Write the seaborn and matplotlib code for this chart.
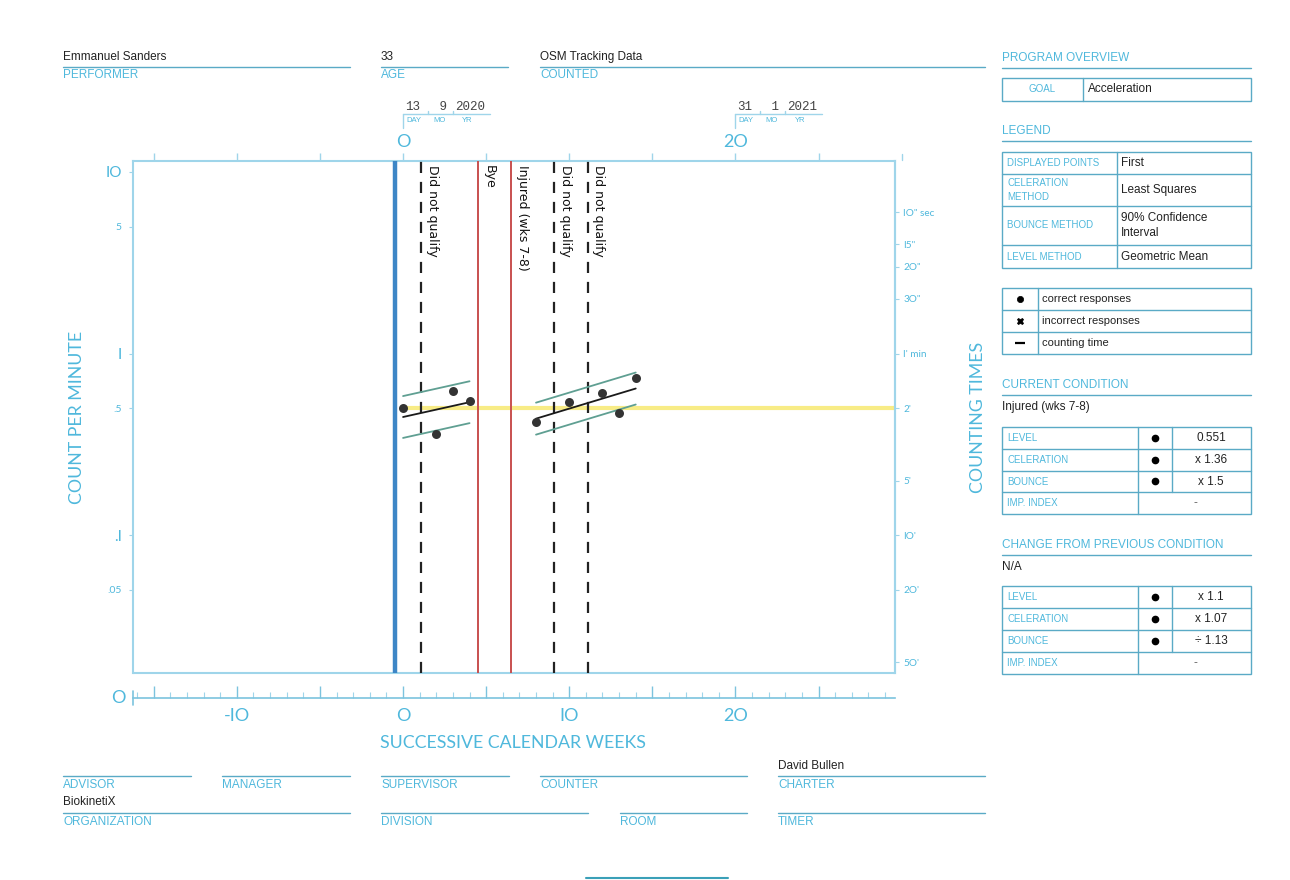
import numpy as np
import pandas as pd
import matplotlib
matplotlib.use("Agg")
import matplotlib.pyplot as plt
import seaborn as sns
from matplotlib.lines import Line2D
from matplotlib.patches import Rectangle
from matplotlib.ticker import NullLocator, FixedLocator

# ------------------------------------------------------------------ data
weeks_phase1 = [0, 2, 3, 4]
counts_phase1 = [0.50, 0.36, 0.62, 0.55]
weeks_phase2 = [8, 10, 12, 13, 14]
counts_phase2 = [0.42, 0.545, 0.61, 0.47, 0.73]
bounce_factors = [1.7, 1.5]

record_floor = 0.5          # 2' counting time
record_floor_start = 0

phase_change_week = -0.5
dnq_weeks = [1.1, 9.1, 11.1]
dnq_labels = ["Did not qualify", "Did not qualify", "Did not qualify"]
event_weeks = [4.5, 6.5]
event_labels = ["Bye", "Injured (wks 7-8)"]

y_ticks_left = [10, 5, 1, 0.5, 0.1, 0.05]
y_ticklabels_left = ["IO", "5", "I", ".5", ".I", ".05"]
y_ticks_right = [6, 4, 3, 2, 1, 0.5, 0.2, 0.1, 0.05, 0.02]
y_ticklabels_right = ['IO" sec', 'I5"', '2O"', '3O"', "I' min", "2'", "5'", "IO'", "2O'", "5O'"]

x_ticks_major = [-15, -10, -5, 0, 5, 10, 15, 20, 25]
x_ticklabels_bottom = ["", "-IO", "", "O", "", "IO", "", "2O", ""]
x_ticklabels_top = ["", "", "", "O", "", "", "", "2O", ""]
x_ticks_minor = list(range(-16, 30))

date_weeks = [0, 20]
date_days = ["13", "31"]
date_months = ["9", "1"]
date_years = ["2020", "2021"]

header_values = ["Emmanuel Sanders", "33", "OSM Tracking Data"]
header_labels = ["PERFORMER", "AGE", "COUNTED"]

legend_keys = ["DISPLAYED POINTS", "CELERATION\nMETHOD", "BOUNCE METHOD", "LEVEL METHOD"]
legend_vals = ["First", "Least Squares", "90% Confidence\nInterval", "Geometric Mean"]
marker_names = ["correct responses", "incorrect responses", "counting time"]

current_condition = "Injured (wks 7-8)"
stat_keys = ["LEVEL", "CELERATION", "BOUNCE", "IMP. INDEX"]
current_vals = ["0.551", "x 1.36", "x 1.5", "-"]
change_vals = ["x 1.1", "x 1.07", "\u00f7 1.13", "-"]

footer_row1 = [("ADVISOR", ""), ("MANAGER", ""), ("SUPERVISOR", ""), ("COUNTER", ""), ("CHARTER", "David Bullen")]
footer_row2 = [("ORGANIZATION", "BiokinetiX"), ("DIVISION", ""), ("ROOM", ""), ("TIMER", "")]

# ------------------------------------------------------------------ style
sns.set_theme(style="white")
plt.rcParams["font.family"] = ["Liberation Sans", "DejaVu Sans"]

TXT = "#4fb8dc"
SPINE = "#9fd5ea"
LINE = "#5aaac6"
TAB = "#5aaac6"
DARK = "#222222"

W, H = 1290, 880
fig = plt.figure(figsize=(12.9, 8.8), dpi=100)
fig.patch.set_facecolor("white")


def fx(x):
    return x / W


def fy(y):
    return 1 - y / H


def hline(x0, x1, y, color=LINE, lw=1.0):
    fig.add_artist(Line2D([fx(x0), fx(x1)], [fy(y), fy(y)], color=color, lw=lw,
                          transform=fig.transFigure))


def vline(x, y0, y1, color=LINE, lw=1.0):
    fig.add_artist(Line2D([fx(x), fx(x)], [fy(y0), fy(y1)], color=color, lw=lw,
                          transform=fig.transFigure))


def txt(x, y, s, **kw):
    kw.setdefault("va", "center")
    fig.text(fx(x), fy(y), s, **kw)


# ------------------------------------------------------------------ main axes
ax = fig.add_axes([fx(133), fy(673), (895 - 133) / W, (673 - 161) / H])
ax.set_yscale("log")
ax.set_xlim(-16.25, 29.6)
ax.set_ylim(10 ** -1.758, 10 ** 1.0604)
ax.set_facecolor("white")

# phase / event lines
ax.axvline(phase_change_week, color="#3d86c6", lw=3.2, zorder=3)
for w in dnq_weeks:
    ax.axvline(w, color="#222222", lw=1.6, ls=(0, (5, 4)), zorder=3)
for w in event_weeks:
    ax.axvline(w, color="#c8504f", lw=1.4, zorder=3)
for w, lab in list(zip(dnq_weeks, dnq_labels)) + list(zip(event_weeks, event_labels)):
    ax.annotate(lab, xy=(w, 1), xycoords=("data", "axes fraction"),
                xytext=(3.5, -3), textcoords="offset points", rotation=-90,
                ha="left", va="top", fontsize=9, color="#111111",
                family="DejaVu Sans", zorder=4)

# record floor
ax.plot([record_floor_start, ax.get_xlim()[1]], [record_floor, record_floor],
        color="#f8ec86", lw=3, zorder=2, solid_capstyle="butt")

# data points
df = pd.DataFrame({
    "week": weeks_phase1 + weeks_phase2,
    "count": counts_phase1 + counts_phase2,
    "phase": ["A"] * len(weeks_phase1) + ["B"] * len(weeks_phase2),
})
sns.scatterplot(data=df, x="week", y="count", color="#333333", s=42,
                linewidth=0, ax=ax, legend=False, zorder=6)

# celeration lines and bounce envelopes (least squares on log counts)
for (ph, sub), bf in zip(df.groupby("phase"), bounce_factors):
    xs = sub["week"].to_numpy(float)
    ly = np.log10(sub["count"].to_numpy(float))
    slope, icpt = np.polyfit(xs, ly, 1)
    xl = np.array([xs.min(), xs.max()])
    fit = slope * xl + icpt
    half = np.log10(bf) / 2
    ax.plot(xl, 10 ** fit, color="#1a1a1a", lw=1.3, zorder=5)
    ax.plot(xl, 10 ** (fit + half), color="#5f9f92", lw=1.3, zorder=5)
    ax.plot(xl, 10 ** (fit - half), color="#5f9f92", lw=1.3, zorder=5)

ax.set_xlabel("")
ax.set_ylabel("")

# spines
for s in ["left", "top", "right"]:
    ax.spines[s].set_color(SPINE)
    ax.spines[s].set_linewidth(1.5)
ax.spines["bottom"].set_position(("outward", 18))
ax.spines["bottom"].set_color("#7cc3de")
ax.spines["bottom"].set_linewidth(1.2)
ax.plot([0, 1], [0, 0], transform=ax.transAxes, color=SPINE, lw=1.5, clip_on=False, zorder=1)

# left ticks
ax.yaxis.set_minor_locator(NullLocator())
ax.set_yticks(y_ticks_left)
ax.set_yticklabels(y_ticklabels_left)
for lbl, t in zip(ax.get_yticklabels(), y_ticks_left):
    dec = abs(np.log10(t) - round(np.log10(t))) < 1e-6
    lbl.set_fontsize(11 if dec else 7.5)
    lbl.set_color(TXT)
    lbl.set_family("Lato")
ax.tick_params(axis="y", which="major", direction="out", length=3, width=0.8,
               color=SPINE, pad=5, left=True)

# bottom ticks
ax.xaxis.set_major_locator(FixedLocator(x_ticks_major))
ax.xaxis.set_minor_locator(FixedLocator(x_ticks_minor))
ax.set_xticklabels(x_ticklabels_bottom)
for lbl in ax.get_xticklabels():
    lbl.set_fontsize(13)
    lbl.set_color(TXT)
    lbl.set_family("Lato")
ax.tick_params(axis="x", which="major", direction="in", length=9, width=1,
               color="#7cc3de", pad=7, bottom=True)
ax.tick_params(axis="x", which="minor", direction="in", length=4, width=0.8,
               color="#9fd5ea", bottom=True)
ax.grid(False)

# top axis
axt = ax.secondary_xaxis("top")
axt.set_xticks(x_ticks_major)
axt.set_xticklabels(x_ticklabels_top)
axt.spines["top"].set_visible(False)
for lbl in axt.get_xticklabels():
    lbl.set_fontsize(13)
    lbl.set_color(TXT)
    lbl.set_family("Lato")
axt.tick_params(axis="x", which="major", direction="out", length=6, width=1,
                color=SPINE, pad=2)
axt.xaxis.set_minor_locator(NullLocator())

# right axis (counting times)
axr = ax.twinx()
axr.set_yscale("log")
axr.set_ylim(ax.get_ylim())
axr.yaxis.set_minor_locator(NullLocator())
axr.set_yticks(y_ticks_right)
axr.set_yticklabels(y_ticklabels_right)
for lbl in axr.get_yticklabels():
    lbl.set_fontsize(7.2)
    lbl.set_color(TXT)
    lbl.set_family("Lato")
axr.tick_params(axis="y", direction="out", length=3, width=0.8, color=SPINE, pad=3)
for s in ["left", "top", "bottom"]:
    axr.spines[s].set_visible(False)
axr.spines["right"].set_color(SPINE)
axr.spines["right"].set_linewidth(1.5)
axr.grid(False)


def wpx(w):
    """pixel x (figure, from left) of a week value"""
    return ax.transData.transform((w, 1))[0]


# extra tick beyond the right edge on the top axis
x30 = wpx(30)
vline(x30, 154, 160, color=SPINE, lw=1)
# left end marker on the bottom axis
vline(wpx(ax.get_xlim()[0]), 691, 705, color="#7cc3de", lw=1.2)
txt(118, 698, "O", fontsize=13, color=TXT, ha="center", family="Lato")

# date stamps above the top axis
for w, d, m, yv in zip(date_weeks, date_days, date_months, date_years):
    x0 = wpx(w)
    txt(x0 + 2, 106.5, f"{d:>2}", fontsize=9, color="#444444", family="Liberation Mono", ha="left")
    txt(x0 + 29, 106.5, f"{m:>2}", fontsize=9, color="#444444", family="Liberation Mono", ha="left")
    txt(x0 + 52, 106.5, yv, fontsize=9, color="#444444", family="Liberation Mono", ha="left")
    hline(x0, x0 + 87, 114, color=SPINE, lw=1)
    vline(x0, 114, 128, color=SPINE, lw=1)
    vline(x0 + 25, 111, 114, color=SPINE, lw=1)
    vline(x0 + 50, 111, 114, color=SPINE, lw=1)
    txt(x0 + 3, 120.5, "DAY", fontsize=5.5, color=TXT, ha="left")
    txt(x0 + 30, 120.5, "MO", fontsize=5.5, color=TXT, ha="left")
    txt(x0 + 59, 120.5, "YR", fontsize=5.5, color=TXT, ha="left")

# axis titles
txt(77, 417, "COUNT PER MINUTE", fontsize=12.8, color=TXT, rotation=90, ha="center", family="Lato")
txt(978, 417, "COUNTING TIMES", fontsize=12.8, color=TXT, rotation=90, ha="center", family="Lato")
txt(513, 743, "SUCCESSIVE CALENDAR WEEKS", fontsize=12.8, color=TXT, ha="center", family="Lato")

# ------------------------------------------------------------------ header
header_spans = [(63, 350), (381, 508), (540, 985)]
for (x0, x1), val, lab in zip(header_spans, header_values, header_labels):
    txt(x0, 57, val, fontsize=8.5, color=DARK)
    hline(x0, x1, 67)
    txt(x0, 75.5, lab, fontsize=8.5, color=TXT)

# ------------------------------------------------------------------ footer
row1_spans = [(63, 191), (222, 350), (381, 509), (540, 747), (778, 985)]
for (x0, x1), (lab, val) in zip(row1_spans, footer_row1):
    if val:
        txt(x0, 766, val, fontsize=8.5, color=DARK)
    hline(x0, x1, 776)
    txt(x0, 784.5, lab, fontsize=8.5, color=TXT)
row2_spans = [(63, 350), (381, 588), (620, 747), (778, 985)]
for (x0, x1), (lab, val) in zip(row2_spans, footer_row2):
    if val:
        txt(x0, 802, val, fontsize=8.5, color=DARK)
    hline(x0, x1, 813)
    txt(x0, 821.5, lab, fontsize=8.5, color=TXT)
hline(586, 728, 878, color="#3aa0b8", lw=1.5)

# ------------------------------------------------------------------ right panel
PX0, PX1 = 1002, 1251


def heading(y, s):
    txt(PX0, y, s, fontsize=8.5, color=TXT)
    hline(PX0, PX1, y + 10, color=LINE, lw=1)


def box(x0, y0, x1, y1):
    fig.add_artist(Rectangle((fx(x0), fy(y1)), fx(x1) - fx(x0), fy(y0) - fy(y1),
                             transform=fig.transFigure, fill=False, ec=TAB, lw=1))


heading(58, "PROGRAM OVERVIEW")
box(PX0, 78, PX1, 101)
vline(1083, 78, 101, color=TAB)
txt(1042, 89.5, "GOAL", fontsize=7, color=TXT, ha="center")
txt(1088, 89.5, "Acceleration", fontsize=8.5, color=DARK)

heading(131, "LEGEND")
rows = [152, 174, 206, 245, 268]
box(PX0, rows[0], PX1, rows[-1])
vline(1117, rows[0], rows[-1], color=TAB)
for i in range(len(legend_keys)):
    if i > 0:
        hline(PX0, PX1, rows[i], color=TAB)
    yc = (rows[i] + rows[i + 1]) / 2
    txt(1007, yc, legend_keys[i], fontsize=7, color=TXT, linespacing=1.45)
    txt(1121, yc, legend_vals[i], fontsize=8.5, color=DARK, linespacing=1.35)

rows = [288, 310, 332, 354]
box(PX0, rows[0], PX1, rows[-1])
vline(1038, rows[0], rows[-1], color=TAB)
marks = [("o", 4.5), ("X", 5), ("_", 7)]
for i, name in enumerate(marker_names):
    if i > 0:
        hline(PX0, PX1, rows[i], color=TAB)
    yc = (rows[i] + rows[i + 1]) / 2
    mk, ms = marks[i]
    fig.add_artist(Line2D([fx(1020)], [fy(yc)], marker=mk, ms=ms, color="black",
                          mew=1.6 if mk == "_" else 0.5, ls="none", transform=fig.transFigure))
    txt(1042, yc, name, fontsize=8, color=DARK)


def stat_table(y_rows, vals):
    box(PX0, y_rows[0], PX1, y_rows[-1])
    vline(1138, y_rows[0], y_rows[-1], color=TAB)
    vline(1172, y_rows[0], y_rows[3], color=TAB)
    for i, key in enumerate(stat_keys):
        if i > 0:
            hline(PX0, PX1, y_rows[i], color=TAB)
        yc = (y_rows[i] + y_rows[i + 1]) / 2
        txt(1007, yc, key, fontsize=7, color=TXT)
        if i < 3:
            fig.add_artist(Line2D([fx(1155)], [fy(yc)], marker="o", ms=4.5, color="black",
                                  ls="none", transform=fig.transFigure))
            txt(1211, yc, vals[i], fontsize=8.5, color=DARK, ha="center")
        else:
            txt(1195, yc, vals[i], fontsize=8.5, color="#666666", ha="center")


heading(385, "CURRENT CONDITION")
txt(PX0, 407, current_condition, fontsize=8.5, color=DARK)
stat_table([427, 449, 471, 492, 514], current_vals)

heading(545, "CHANGE FROM PREVIOUS CONDITION")
txt(PX0, 567, "N/A", fontsize=8.5, color=DARK)
stat_table([586, 608, 630, 652, 674], change_vals)

fig.savefig("out.png", dpi=100, facecolor="white")
